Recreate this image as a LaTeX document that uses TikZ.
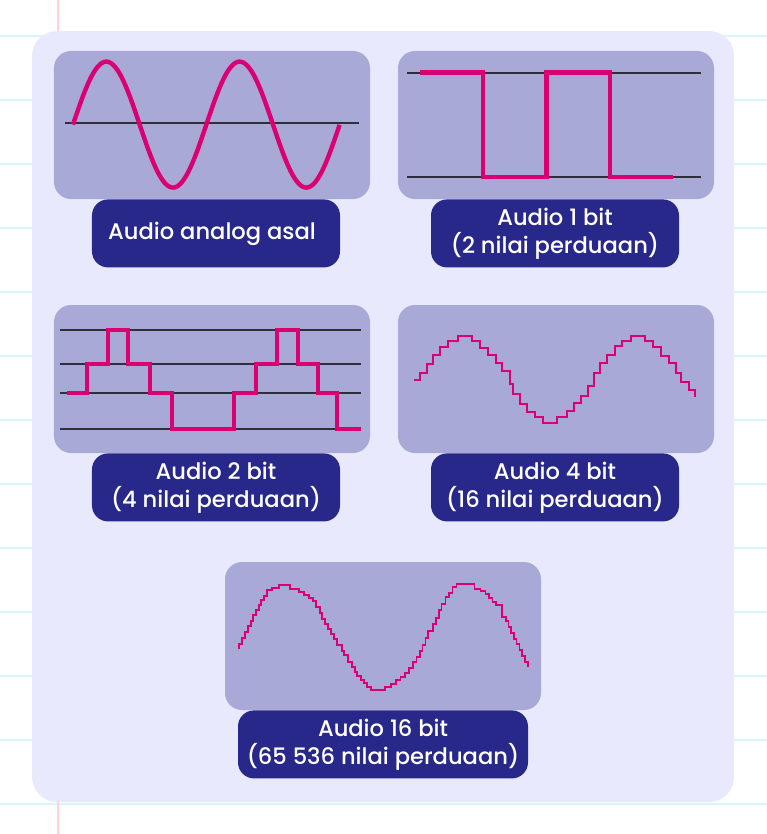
\documentclass[tikz,border=0pt]{standalone}
\usepackage{fontspec}
\setmainfont{Poppins}[UprightFont=* Medium]
\usetikzlibrary{positioning}
\definecolor{ruled}{HTML}{D9F3FF}
\definecolor{margin}{HTML}{FFD2D6}
\definecolor{panel}{HTML}{E9E9FD}
\definecolor{plate}{HTML}{A9A9D7}
\definecolor{tag}{HTML}{28288A}
\definecolor{wave}{HTML}{DB0072}
\definecolor{axis}{HTML}{2F2F3C}
\tikzset{
  plate/.style={fill=plate,rounded corners=17bp,minimum width=316bp,minimum height=148bp,inner sep=0pt},
  tag/.style={fill=tag,text=white,rounded corners=16bp,minimum width=248bp,minimum height=68bp,inner sep=0pt,
    align=center,font=\fontsize{22.6bp}{28bp}\selectfont},
  axis/.style={draw=axis,line width=2bp},
  wave/.style={draw=wave,line join=miter}
}
\begin{document}
\begin{tikzpicture}[x=1bp,y=-1bp]
\useasboundingbox (0,0) rectangle (767,834);
\fill[white] (0,0) rectangle (767,834);
\draw[ruled,line width=1.4bp]
  (0,36) -- (767,36) (0,100) -- (767,100) (0,164) -- (767,164) (0,228) -- (767,228)
  (0,292) -- (767,292) (0,356) -- (767,356) (0,420) -- (767,420) (0,484) -- (767,484)
  (0,548) -- (767,548) (0,612) -- (767,612) (0,676) -- (767,676) (0,740) -- (767,740)
  (0,804) -- (767,804);
\draw[margin,line width=1.4bp] (58,0) -- (58,834);
\fill[panel,rounded corners=25bp] (32,31) rectangle (734,802);
% Plates and their tags.
\node[plate] (analog) at (212,125) {};
\node[tag,below=0pt of analog,xshift=4bp] (analogtag) {Audio analog asal\hspace*{8bp}};
\node[plate] (bitone) at (556,125) {};
\node[tag,below=0pt of bitone,xshift=-1bp] (bitonetag) {Audio 1 bit\\(2 nilai perduaan)};
\node[plate] (bittwo) at (212,379) {};
\node[tag,below=0pt of bittwo,xshift=4bp] (bittwotag) {Audio 2 bit\\(4 nilai perduaan)};
\node[plate] (bitfour) at (556,379) {};
\node[tag,below=0pt of bitfour,xshift=-1bp] (bitfourtag) {Audio 4 bit\\(16 nilai perduaan)};
\node[plate] (bitsixteen) at (383,636) {};
\node[tag,below=0pt of bitsixteen,minimum width=290bp] (bitsixteentag) {Audio 16 bit\\(65 536 nilai perduaan)};
% Analog.
\draw[axis] (65,123) -- (359,123);
\draw[wave,line width=4.4bp] plot[domain=73:339.6,samples=120,smooth] (\x,{124.6-63*sin(2.7*(\x-73))});
% 1 bit.
\draw[axis] (407,72.5) -- (701,72.5) (407,177) -- (701,177);
\draw[wave,line width=4.2bp] (419.5,72.5) -| (483,177) -| (546.5,72.5) -| (610,177) -- (673,177);
% 2 bit.
\draw[axis] (60,330) -- (361,330) (60,364) -- (361,364) (60,393) -- (361,393) (60,428.7) -- (361,428.7);
\draw[wave,line width=3.8bp] (67.3,393) -| (87.3,364) -| (107.7,330) -| (128,364) -| (149.7,393) -| (171.7,428.7)
  -| (233.7,393) -| (256,364) -| (277.3,330) -| (297.7,364) -| (318,393) -| (337.3,428.7) -- (361,428.7);
% 4 bit, read off in thirds of a pixel.
\begin{scope}[shift={(395,300)},x=0.3333bp,y=-0.3333bp]
\draw[wave,line width=2bp] (57,240) -| (76,219) -| (96,191) -| (115,166) -| (136,141) -| (160,124) -| (189,107)
  -| (231,124) -| (255,143) -| (279,166) -| (302,189) -| (322,214) -| (344,252) -| (355,283) -| (376,311)
  -| (397,335) -| (421,352) -| (444,368) -| (487,352) -| (515,334) -| (538,310) -| (558,288) -| (580,257)
  -| (598,218) -| (615,189) -| (636,164) -| (660,139) -| (681,123) -| (709,109) -| (750,123) -| (775,142)
  -| (799,167) -| (822,190) -| (842,218) -| (858,246) -| (881,270) -| (900,290);
\end{scope}
% 16 bit, same way.
\begin{scope}[shift={(220,560)},x=0.3333bp,y=-0.3333bp]
\draw[wave,line width=1.7bp] (56,268) |- (65,252) |- (75,235) |- (84,217) |- (92,199) |- (100,183) |- (108,165)
  |- (116,150) |- (124,134) |- (133,120) |- (142,107) |- (156,91) |- (178,83) |- (209,74) |- (236,86) |- (252,97)
  |- (266,104) |- (280,113) |- (288,123) |- (300,140) |- (306,158) |- (316,176) |- (325,192) |- (333,207)
  |- (342,222) |- (351,238) |- (366,255) |- (373,272) |- (385,286) |- (396,306) |- (404,320) |- (412,335)
  |- (424,347) |- (431,360) |- (440,370) |- (454,381) |- (496,390) |- (513,380) |- (528,372) |- (542,360)
  |- (556,350) |- (568,340) |- (580,325) |- (590,306) |- (600,291) |- (608,272) |- (617,256) |- (625,233)
  |- (640,213) |- (648,193) |- (657,174) |- (665,150) |- (677,132) |- (688,112) |- (698,98) |- (710,82)
  |- (764,71) |- (782,86) |- (797,93) |- (808,103) |- (818,114) |- (829,125) |- (846,134) |- (858,170)
  |- (866,184) |- (874,200) |- (882,218) |- (890,238) |- (899,252) |- (906,270) |- (916,289) |- (924,305) -- (924,322);
\end{scope}
\end{tikzpicture}
\end{document}
